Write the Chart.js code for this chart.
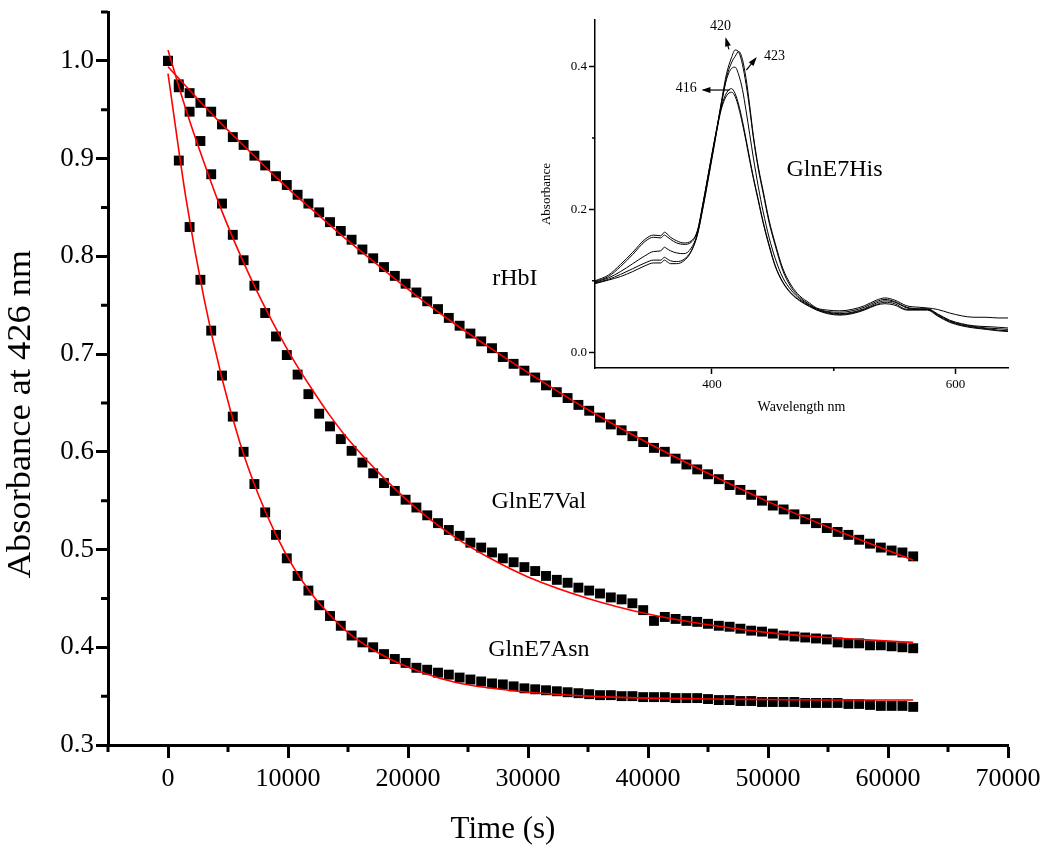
<!DOCTYPE html>
<html>
<head>
<meta charset="utf-8">
<script src="https://cdn.jsdelivr.net/npm/chart.js@4.4.0/dist/chart.umd.min.js"></script>
<style>
  body { margin: 0; background: #fff; }
  #wrap { position: relative; width: 1050px; height: 857px; }
  #main { position: absolute; left: 0; top: 0; }
  #inset { position: absolute; left: 520px; top: 0; }
</style>
</head>
<body>
<div id="wrap">
  <canvas id="main" width="1050" height="857"></canvas>
  <canvas id="inset" width="520" height="430"></canvas>
</div>
<script>
const SERIF = '"Liberation Serif", "Times New Roman", serif';

// ---- kinetics (main plot) ----
const timeS = [0, 900, 1800, 2700, 3600, 4500, 5400, 6300, 7200, 8100,
  9000, 9900, 10800, 11700, 12600, 13500, 14400, 15300, 16200, 17100,
  18000, 18900, 19800, 20700, 21600, 22500, 23400, 24300, 25200, 26100,
  27000, 27900, 28800, 29700, 30600, 31500, 32400, 33300, 34200, 35100,
  36000, 36900, 37800, 38700, 39600, 40500, 41400, 42300, 43200, 44100,
  45000, 45900, 46800, 47700, 48600, 49500, 50400, 51300, 52200, 53100,
  54000, 54900, 55800, 56700, 57600, 58500, 59400, 60300, 61200, 62100];

const rHbI = [1.000, 0.976, 0.967, 0.957, 0.948, 0.935, 0.922, 0.914, 0.903, 0.893,
  0.882, 0.873, 0.863, 0.854, 0.845, 0.835, 0.826, 0.817, 0.807, 0.798,
  0.789, 0.780, 0.772, 0.763, 0.754, 0.746, 0.737, 0.729, 0.721, 0.713,
  0.706, 0.697, 0.690, 0.683, 0.676, 0.668, 0.661, 0.655, 0.648, 0.642,
  0.635, 0.628, 0.622, 0.616, 0.610, 0.604, 0.600, 0.593, 0.587, 0.582,
  0.577, 0.572, 0.566, 0.561, 0.556, 0.550, 0.545, 0.541, 0.536, 0.531,
  0.527, 0.522, 0.518, 0.515, 0.510, 0.506, 0.502, 0.499, 0.497, 0.493];

const glnE7Val = [1.000, 0.973, 0.948, 0.918, 0.884, 0.854, 0.822, 0.796, 0.770, 0.742,
  0.718, 0.699, 0.679, 0.659, 0.639, 0.626, 0.613, 0.601, 0.589, 0.578,
  0.568, 0.560, 0.551, 0.543, 0.535, 0.527, 0.520, 0.514, 0.507, 0.502,
  0.497, 0.491, 0.487, 0.482, 0.478, 0.473, 0.469, 0.466, 0.461, 0.458,
  0.455, 0.451, 0.449, 0.445, 0.438, 0.427, 0.431, 0.429, 0.427, 0.426,
  0.424, 0.422, 0.421, 0.419, 0.417, 0.416, 0.414, 0.412, 0.411, 0.410,
  0.409, 0.408, 0.405, 0.404, 0.404, 0.402, 0.402, 0.401, 0.400, 0.399];

const glnE7Asn = [1.000, 0.898, 0.830, 0.776, 0.724, 0.678, 0.636, 0.600, 0.567, 0.538,
  0.515, 0.491, 0.473, 0.458, 0.443, 0.432, 0.422, 0.412, 0.405, 0.400,
  0.393, 0.388, 0.384, 0.379, 0.377, 0.374, 0.372, 0.369, 0.367, 0.365,
  0.363, 0.362, 0.360, 0.358, 0.357, 0.356, 0.355, 0.354, 0.353, 0.352,
  0.351, 0.351, 0.350, 0.350, 0.349, 0.349, 0.349, 0.348, 0.348, 0.348,
  0.347, 0.346, 0.346, 0.345, 0.345, 0.344, 0.344, 0.344, 0.344, 0.343,
  0.343, 0.343, 0.343, 0.342, 0.342, 0.341, 0.340, 0.340, 0.340, 0.339];

const fitTime = [0, 1500, 3000, 4500, 6000, 7500, 9000, 10500, 12000, 13500, 15000,
  18000, 21000, 24000, 27000, 30000, 35000, 40000, 45000, 50000, 55000, 62100];
const rHbIFit = [0.994, 0.974, 0.954, 0.935, 0.917, 0.899, 0.881, 0.864, 0.848, 0.832, 0.816,
  0.786, 0.757, 0.730, 0.705, 0.681, 0.643, 0.609, 0.578, 0.549, 0.523, 0.489];
const valFit = [1.011, 0.950, 0.896, 0.846, 0.802, 0.762, 0.726, 0.693, 0.664, 0.637, 0.613,
  0.573, 0.539, 0.512, 0.490, 0.472, 0.450, 0.434, 0.423, 0.415, 0.410, 0.405];
const asnFit = [0.987, 0.859, 0.757, 0.675, 0.609, 0.557, 0.515, 0.481, 0.454, 0.433, 0.415,
  0.391, 0.375, 0.364, 0.358, 0.354, 0.350, 0.348, 0.347, 0.3465, 0.346, 0.346];

const xTicks = [0, 10000, 20000, 30000, 40000, 50000, 60000, 70000];
const xMinor = [-5000, 5000, 15000, 25000, 35000, 45000, 55000, 65000];
const yTicks = [0.3, 0.4, 0.5, 0.6, 0.7, 0.8, 0.9, 1.0];
const yMinor = [0.35, 0.45, 0.55, 0.65, 0.75, 0.85, 0.95, 1.05];

// ---- inset spectra (GlnE7His) ----
const wavelength = [304, 315, 325, 335, 345, 352, 358, 361, 363, 366, 371, 377, 383, 388, 393,
  398, 403, 408, 412, 416, 419, 422, 425, 428, 431, 434, 438, 442, 447, 452, 458, 465, 472,
  480, 486, 495, 505, 515, 525, 535, 542, 550, 560, 570, 577, 585, 595, 605, 615, 625, 635, 643];
const spec423 = [0.096, 0.101, 0.106, 0.113, 0.121, 0.125, 0.125, 0.129, 0.127, 0.124, 0.124, 0.128, 0.141, 0.164, 0.205,
  0.252, 0.300, 0.350, 0.385, 0.405, 0.414, 0.421, 0.410, 0.383, 0.345, 0.303, 0.260, 0.226, 0.184, 0.152, 0.118, 0.094, 0.079,
  0.069, 0.062, 0.059, 0.058, 0.060, 0.065, 0.073, 0.076, 0.073, 0.065, 0.063, 0.062, 0.060, 0.055, 0.051, 0.049, 0.049, 0.048, 0.048];
const spec420 = [0.097, 0.102, 0.109, 0.117, 0.125, 0.129, 0.129, 0.133, 0.131, 0.128, 0.127, 0.130, 0.142, 0.165, 0.207,
  0.254, 0.302, 0.353, 0.390, 0.412, 0.423, 0.420, 0.403, 0.375, 0.340, 0.300, 0.257, 0.223, 0.181, 0.149, 0.115, 0.091, 0.077,
  0.067, 0.061, 0.057, 0.056, 0.058, 0.063, 0.071, 0.074, 0.071, 0.063, 0.061, 0.061, 0.054, 0.045, 0.040, 0.037, 0.036, 0.035, 0.034];
const spec418 = [0.098, 0.104, 0.113, 0.124, 0.135, 0.141, 0.142, 0.147, 0.145, 0.142, 0.139, 0.138, 0.146, 0.166, 0.210,
  0.257, 0.304, 0.350, 0.382, 0.397, 0.399, 0.388, 0.368, 0.338, 0.305, 0.272, 0.232, 0.197, 0.160, 0.131, 0.105, 0.087, 0.075,
  0.066, 0.060, 0.056, 0.054, 0.056, 0.061, 0.069, 0.072, 0.070, 0.062, 0.060, 0.060, 0.053, 0.044, 0.039, 0.036, 0.034, 0.033, 0.032];
const spec416a = [0.100, 0.108, 0.123, 0.140, 0.158, 0.164, 0.163, 0.168, 0.166, 0.161, 0.156, 0.153, 0.156, 0.170, 0.212,
  0.259, 0.305, 0.345, 0.363, 0.369, 0.362, 0.346, 0.324, 0.298, 0.271, 0.245, 0.214, 0.183, 0.150, 0.121, 0.099, 0.083, 0.073,
  0.065, 0.060, 0.055, 0.053, 0.055, 0.060, 0.067, 0.070, 0.068, 0.060, 0.060, 0.060, 0.052, 0.043, 0.038, 0.035, 0.033, 0.031, 0.030];
const spec416b = [0.099, 0.106, 0.120, 0.137, 0.155, 0.161, 0.160, 0.164, 0.162, 0.158, 0.153, 0.151, 0.154, 0.169, 0.211,
  0.258, 0.303, 0.342, 0.359, 0.364, 0.358, 0.342, 0.320, 0.295, 0.268, 0.243, 0.212, 0.181, 0.148, 0.120, 0.098, 0.082, 0.072,
  0.064, 0.059, 0.054, 0.052, 0.054, 0.059, 0.066, 0.068, 0.066, 0.059, 0.059, 0.059, 0.051, 0.042, 0.037, 0.034, 0.032, 0.030, 0.029];

const wlTicks = [400, 600];
const wlMinor = [500];
const absTicks = [0.0, 0.2, 0.4];
const absMinor = [0.1, 0.3];

// draws minor ticks, text labels and arrows from plugin options
const extras = {
  id: 'extras',
  afterDraw(chart, args, o) {
    const ctx = chart.ctx;
    const xs = chart.scales.x, ys = chart.scales.y;
    ctx.save();
    ctx.strokeStyle = '#000';
    ctx.lineWidth = o.minorWidth;
    ctx.beginPath();
    o.minorX.forEach(v => {
      const p = xs.getPixelForValue(v);
      ctx.moveTo(p, xs.top);
      ctx.lineTo(p, xs.top + o.minorLen);
    });
    o.minorY.forEach(v => {
      const p = ys.getPixelForValue(v);
      ctx.moveTo(ys.right, p);
      ctx.lineTo(ys.right - o.minorLen, p);
    });
    ctx.stroke();

    ctx.fillStyle = '#000';
    ctx.textAlign = 'center';
    ctx.textBaseline = 'middle';
    (o.labels || []).forEach(l => {
      ctx.font = l.size + 'px ' + SERIF;
      ctx.fillText(l.text, xs.getPixelForValue(l.x), ys.getPixelForValue(l.y));
    });
    (o.titles || []).forEach(t => {
      ctx.save();
      ctx.font = t.size + 'px ' + SERIF;
      ctx.translate(t.px, t.py);
      ctx.rotate(t.rot || 0);
      ctx.scale(t.stretch || 1, 1);
      ctx.fillText(t.text, 0, 0);
      ctx.restore();
    });
    (o.arrows || []).forEach(a => {
      const x1 = xs.getPixelForValue(a.from[0]), y1 = ys.getPixelForValue(a.from[1]);
      const x2 = xs.getPixelForValue(a.to[0]), y2 = ys.getPixelForValue(a.to[1]);
      const ang = Math.atan2(y2 - y1, x2 - x1);
      ctx.lineWidth = 1.2;
      ctx.beginPath();
      ctx.moveTo(x1, y1);
      ctx.lineTo(x2, y2);
      ctx.stroke();
      ctx.beginPath();
      ctx.moveTo(x2 + 2 * Math.cos(ang), y2 + 2 * Math.sin(ang));
      ctx.lineTo(x2 - 7 * Math.cos(ang) + 3 * Math.sin(ang), y2 - 7 * Math.sin(ang) - 3 * Math.cos(ang));
      ctx.lineTo(x2 - 7 * Math.cos(ang) - 3 * Math.sin(ang), y2 - 7 * Math.sin(ang) + 3 * Math.cos(ang));
      ctx.closePath();
      ctx.fill();
    });
    ctx.restore();
  }
};

const pts = (xv, yv) => xv.map((x, i) => ({ x: x, y: yv[i] }));

const series = [
  { name: 'rHbI', values: rHbI, fit: rHbIFit },
  { name: 'GlnE7Val', values: glnE7Val, fit: valFit },
  { name: 'GlnE7Asn', values: glnE7Asn, fit: asnFit }
];

new Chart(document.getElementById('main'), {
  type: 'scatter',
  data: {
    datasets: [
      ...series.map(s => ({
        label: s.name,
        data: pts(timeS, s.values),
        pointStyle: 'rect',
        pointRadius: 7,
        pointBackgroundColor: '#000',
        pointBorderWidth: 0,
        showLine: false,
        order: 2
      })),
      ...series.map(s => ({
        label: s.name + ' fit',
        data: pts(fitTime, s.fit),
        showLine: true,
        pointRadius: 0,
        borderColor: '#ff0000',
        borderWidth: 1.6,
        cubicInterpolationMode: 'monotone',
        order: 1
      }))
    ]
  },
  options: {
    responsive: false,
    animation: false,
    events: [],
    layout: { padding: { left: 0, right: 42, top: 12, bottom: 0 } },
    plugins: {
      legend: { display: false },
      tooltip: { enabled: false },
      extras: {
        minorX: xMinor, minorY: yMinor, minorLen: 7, minorWidth: 3,
        labels: [
          { text: 'rHbI', x: 28900, y: 0.777, size: 24 },
          { text: 'GlnE7Val', x: 30900, y: 0.549, size: 24 },
          { text: 'GlnE7Asn', x: 30900, y: 0.397, size: 24 }
        ],
        titles: [
          { text: 'Time (s)', px: 503, py: 830, size: 31 },
          { text: 'Absorbance at 426 nm', px: 21, py: 414, size: 34, rot: -Math.PI / 2, stretch: 1.07 }
        ]
      }
    },
    scales: {
      x: {
        type: 'linear', min: -5000, max: 70000,
        border: { display: true, color: '#000', width: 3 },
        grid: { drawOnChartArea: false, tickLength: 13, tickWidth: 3, tickColor: '#000' },
        ticks: { color: '#000', font: { family: SERIF, size: 26 }, padding: 6, autoSkip: false, maxRotation: 0,
          callback: v => String(v) },
        afterBuildTicks: s => { s.ticks = xTicks.map(v => ({ value: v })); },
        afterFit: s => { s.height = 112; s.paddingLeft = 0; s.paddingRight = 0; }
      },
      y: {
        type: 'linear', min: 0.3, max: 1.05,
        border: { display: true, color: '#000', width: 3 },
        grid: { drawOnChartArea: false, tickLength: 12, tickWidth: 3, tickColor: '#000' },
        ticks: { color: '#000', font: { family: SERIF, size: 27 }, padding: 2, autoSkip: false,
          callback: v => v.toFixed(1) },
        afterBuildTicks: s => { s.ticks = yTicks.map(v => ({ value: v })); },
        afterFit: s => { s.width = 108; s.paddingTop = 0; s.paddingBottom = 0; }
      }
    }
  },
  plugins: [extras]
});

const spectra = [spec423, spec420, spec418, spec416a, spec416b];

new Chart(document.getElementById('inset'), {
  type: 'scatter',
  data: {
    datasets: spectra.map((s, i) => ({
      label: 'spectrum ' + (i + 1),
      data: pts(wavelength, s),
      showLine: true,
      pointRadius: 0,
      borderColor: '#000',
      borderWidth: 1,
      cubicInterpolationMode: 'monotone'
    }))
  },
  options: {
    responsive: false,
    animation: false,
    events: [],
    layout: { padding: { left: 0, right: 32, top: 20, bottom: 0 } },
    plugins: {
      legend: { display: false },
      tooltip: { enabled: false },
      extras: {
        minorX: wlMinor, minorY: absMinor, minorLen: 3, minorWidth: 1.5,
        labels: [
          { text: '420', x: 407, y: 0.4555, size: 14 },
          { text: '423', x: 451.4, y: 0.4135, size: 14 },
          { text: '416', x: 379, y: 0.369, size: 14 },
          { text: 'GlnE7His', x: 500.6, y: 0.2556, size: 24 }
        ],
        arrows: [
          { from: [413.9, 0.424], to: [411.6, 0.438] },
          { from: [428.2, 0.395], to: [435.8, 0.411] },
          { from: [414.5, 0.367], to: [393.0, 0.367] }
        ]
      }
    },
    scales: {
      x: {
        type: 'linear', min: 304, max: 643,
        border: { display: true, color: '#000', width: 1.5 },
        grid: { drawOnChartArea: false, tickLength: 6, tickWidth: 1.5, tickColor: '#000' },
        ticks: { color: '#000', font: { family: SERIF, size: 13 }, padding: 3, autoSkip: false, maxRotation: 0,
          callback: v => String(v) },
        title: { display: true, text: 'Wavelength nm', color: '#000', font: { family: SERIF, size: 14 },
          padding: { top: 0, bottom: 14 } },
        afterBuildTicks: s => { s.ticks = wlTicks.map(v => ({ value: v })); },
        afterFit: s => { s.height = 62; s.paddingLeft = 0; s.paddingRight = 0; }
      },
      y: {
        type: 'linear', min: -0.022, max: 0.465,
        border: { display: true, color: '#000', width: 1.5 },
        grid: { drawOnChartArea: false, tickLength: 6, tickWidth: 1.5, tickColor: '#000' },
        ticks: { color: '#000', font: { family: SERIF, size: 13 }, padding: 2, autoSkip: false,
          callback: v => v.toFixed(1) },
        title: { display: true, text: 'Absorbance', color: '#000', font: { family: SERIF, size: 13 },
          padding: { top: 19, bottom: 0 } },
        afterBuildTicks: s => { s.ticks = absTicks.map(v => ({ value: v })); },
        afterFit: s => { s.width = 75; s.paddingTop = 0; s.paddingBottom = 0; }
      }
    }
  },
  plugins: [extras]
});
</script>
</body>
</html>
